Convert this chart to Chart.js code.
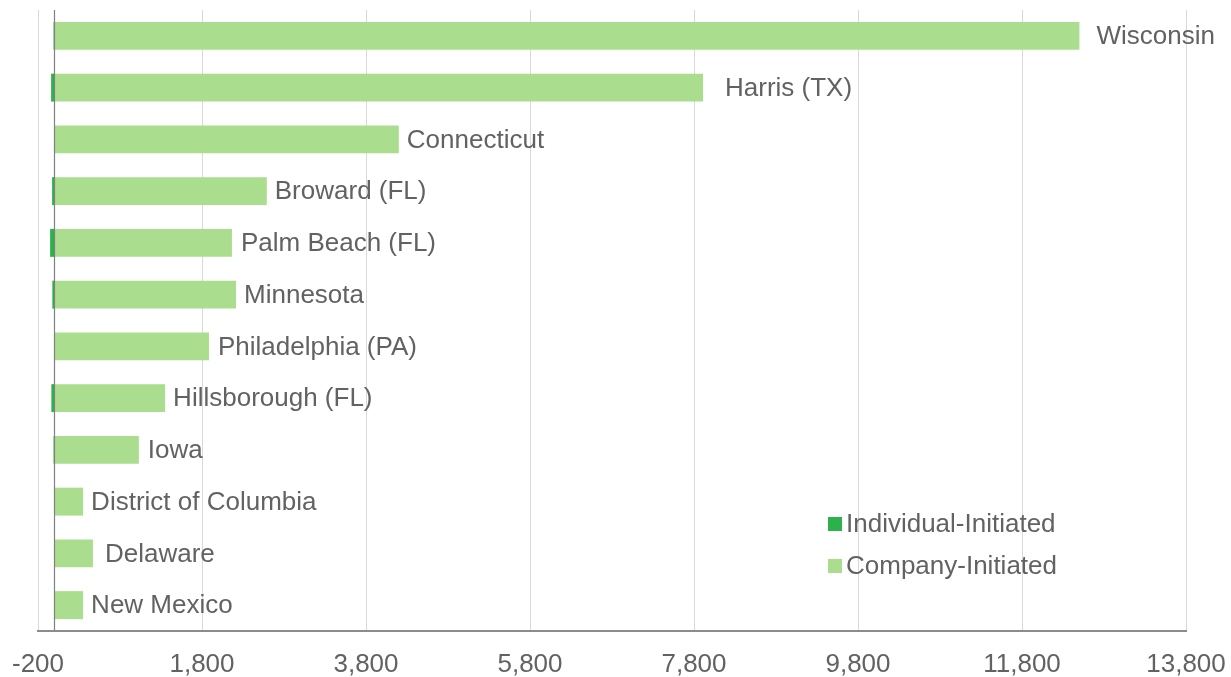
<!DOCTYPE html>
<html>
<head>
<meta charset="utf-8">
<script src="https://cdn.jsdelivr.net/npm/chart.js@4/dist/chart.umd.min.js"></script>
<style>
  html, body { margin: 0; padding: 0; background: #fff; }
  #wrap { width: 1231px; height: 677px; }
</style>
</head>
<body>
<div id="wrap"><canvas id="requests"></canvas></div>
<script>
const regions = ['Wisconsin', 'Harris (TX)', 'Connecticut', 'Broward (FL)', 'Palm Beach (FL)', 'Minnesota',
  'Philadelphia (PA)', 'Hillsborough (FL)', 'Iowa', 'District of Columbia', 'Delaware', 'New Mexico']
const individualInitiated = [-10, -40, -5, -28, -52, -25, 0, -37, -10, 0, 0, 0]
const companyInitiated = [12500, 7910, 4200, 2590, 2165, 2215, 1885, 1350, 1030, 350, 470, 350]
const xTicks = [-200, 1800, 3800, 5800, 7800, 9800, 11800, 13800]

// extra space between a bar end and its name
const labelGap = [17, 22, 8, 8, 9, 8, 9, 8, 9, 8, 12, 8]

const fontFamily = '"Liberation Sans", Arial, sans-serif'
const textColor = '#626262'
const darkGreen = '#2bb24c'
const lightGreen = '#abdd8e'

// zero line sits on top of the bars
const zeroLine = {
  id: 'zeroLine',
  afterDatasetsDraw(chart) {
    const ctx = chart.ctx
    const x = Math.round(chart.scales.x.getPixelForValue(0)) + 0.5
    ctx.save()
    ctx.strokeStyle = '#808080'
    ctx.lineWidth = 1.2
    ctx.beginPath()
    ctx.moveTo(x, chart.chartArea.top)
    ctx.lineTo(x, chart.chartArea.bottom)
    ctx.stroke()
    ctx.restore()
  }
}

// region names at the end of each bar
const barNames = {
  id: 'barNames',
  afterDatasetsDraw(chart) {
    const ctx = chart.ctx
    const meta = chart.getDatasetMeta(1)
    ctx.save()
    ctx.font = '26px ' + fontFamily
    ctx.fillStyle = textColor
    ctx.textBaseline = 'middle'
    ctx.textAlign = 'left'
    meta.data.forEach((bar, i) => {
      ctx.fillText(regions[i], bar.x + labelGap[i], bar.y + 1)
    })
    ctx.restore()
  }
}

// legend in the lower right of the plot
const insideLegend = {
  id: 'insideLegend',
  afterDraw(chart) {
    const ctx = chart.ctx
    ctx.save()
    ctx.font = '26px ' + fontFamily
    ctx.textBaseline = 'middle'
    chart.data.datasets.forEach((ds, i) => {
      const y = 524 + i * 42
      ctx.fillStyle = ds.backgroundColor
      ctx.fillRect(828, y - 7, 14, 14)
      ctx.fillStyle = textColor
      ctx.fillText(ds.label, 846, y + 1)
    })
    ctx.restore()
  }
}

new Chart('requests', {
  type: 'bar',
  data: {
    labels: regions,
    datasets: [{
      label: 'Individual-Initiated',
      data: individualInitiated,
      backgroundColor: darkGreen,
      borderWidth: 0,
      categoryPercentage: 1,
      barPercentage: 0.54
    }, {
      label: 'Company-Initiated',
      data: companyInitiated,
      backgroundColor: lightGreen,
      borderWidth: 0,
      categoryPercentage: 1,
      barPercentage: 0.54
    }]
  },
  options: {
    indexAxis: 'y',
    responsive: true,
    maintainAspectRatio: false,
    animation: false,
    layout: {
      padding: { left: 38, right: 45, top: 10, bottom: 0 }
    },
    plugins: {
      legend: { display: false },
      tooltip: { enabled: false }
    },
    scales: {
      x: {
        stacked: true,
        min: -200,
        max: 13800,
        afterBuildTicks(axis) {
          axis.ticks = xTicks.map(v => ({ value: v }))
        },
        afterFit(axis) {
          axis.height = 46
          axis.paddingLeft = 0
          axis.paddingRight = 0
        },
        ticks: {
          color: textColor,
          font: { family: fontFamily, size: 26 },
          padding: 18,
          maxRotation: 0,
          callback: v => v.toLocaleString('en-US')
        },
        grid: {
          color: '#d9d9d9',
          lineWidth: 1,
          drawTicks: false
        },
        border: {
          color: '#8c8c8c',
          width: 2
        }
      },
      y: {
        stacked: true,
        display: false
      }
    }
  },
  plugins: [zeroLine, barNames, insideLegend]
})
</script>
</body>
</html>
